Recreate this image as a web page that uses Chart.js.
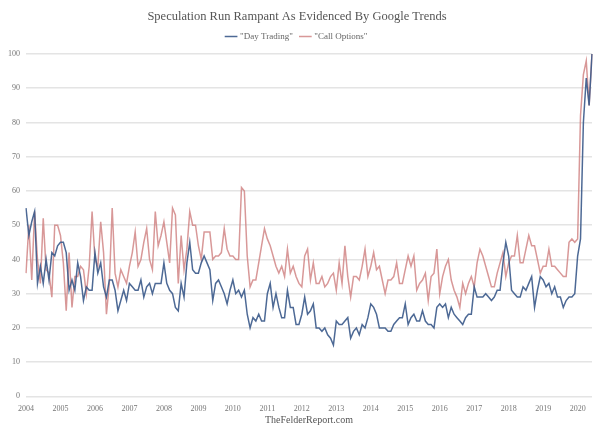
<!DOCTYPE html>
<html>
<head>
<meta charset="utf-8">
<script src="https://cdn.jsdelivr.net/npm/chart.js@4/dist/chart.umd.min.js"></script>
<style>
html,body{margin:0;padding:0;background:#fff;}
#wrap{width:600px;height:434px;}
</style>
</head>
<body>
<div id="wrap"><canvas id="c" width="600" height="434"></canvas></div>
<script>
const years = ['2004','2005','2006','2007','2008','2009','2010','2011','2012','2013','2014','2015','2016','2017','2018','2019','2020'];

const dayTrading = [
  55,47,51,54,33,38,33,40,34,42,41,44,
  45,45,42,31,34,31,39,35,28,32,31,31,
  42,36,39,32,29,34,34,31,25,28,31,28,
  33,32,31,31,34,29,32,33,30,33,33,33,
  39,33,31,30,26,25,33,29,39,45,37,36,
  36,39,41,39,37,28,33,34,32,30,27,31,
  34,30,31,29,31,24,20,23,22,24,22,22,
  30,33,26,30,26,23,23,31,26,26,21,21,
  24,29,24,25,27,20,20,19,20,18,17,15,
  22,21,21,22,23,17,19,20,18,21,20,23,
  27,26,24,20,20,20,19,19,21,22,23,23,
  27,21,23,24,22,22,25,22,21,21,20,26,
  27,26,27,23,26,24,23,22,21,23,24,24,
  32,29,29,29,30,29,28,29,31,31,39,45,
  41,31,30,29,29,32,31,33,35,26,31,35,
  34,32,33,30,32,29,29,26,28,29,29,30,
  41,46,80,93,85,100
];

const callOptions = [
  36,50,34,54,40,33,52,37,36,29,50,50,
  47,39,25,42,26,35,35,38,37,30,38,54,
  40,38,51,42,24,33,55,36,32,37,35,33,
  38,42,48,38,40,45,49,40,37,54,44,47,
  51,45,39,55,53,33,47,37,43,54,50,50,
  44,40,48,48,48,40,41,41,42,49,43,41,
  41,40,40,61,60,41,32,34,34,39,44,49,
  46,44,41,38,36,38,35,43,36,38,35,33,
  32,41,43,34,39,33,33,35,32,33,35,36,
  31,39,33,44,35,29,35,35,34,38,43,35,
  38,42,37,38,34,30,34,34,35,39,33,33,
  37,41,38,41,31,33,34,36,28,35,36,43,
  30,35,38,40,34,31,29,26,33,30,33,35,
  32,39,43,41,38,35,32,32,36,39,42,35,
  39,41,41,47,39,39,43,47,44,44,40,36,
  38,38,43,38,38,37,36,35,35,45,46,45,
  46,82,94,98,85,100
];

const seriesNames = ['"Day Trading"', '"Call Options"'];
const yTicks = [0,10,20,30,40,50,60,70,80,90,100];

// month labels: year label on January, blank otherwise
const labels = [];
years.forEach(y => { for (let m = 0; m < 12; m++) labels.push(m === 0 ? y : ''); });
labels.length = dayTrading.length;

const serif = "'Liberation Serif', 'DejaVu Serif', serif";

// adds a little space below the legend
const legendGap = {
  id: 'legendGap',
  beforeUpdate(chart) {
    const lg = chart.legend;
    if (lg && !lg._gapPatched) {
      const fit = lg.fit;
      lg.fit = function() { fit.call(this); this.height += 3; };
      lg._gapPatched = true;
    }
  }
};

new Chart(document.getElementById('c'), {
  type: 'line',
  data: {
    labels: labels,
    datasets: [
      { label: seriesNames[0], data: dayTrading, borderColor: 'rgba(62,92,140,0.92)', backgroundColor: 'rgba(62,92,140,0.92)', borderWidth: 1.5, pointRadius: 0, tension: 0 },
      { label: seriesNames[1], data: callOptions, borderColor: 'rgba(206,126,126,0.8)', backgroundColor: 'rgba(206,126,126,0.8)', borderWidth: 1.5, pointRadius: 0, tension: 0 }
    ]
  },
  plugins: [legendGap],
  options: {
    responsive: false,
    animation: false,
    layout: { padding: { left: 2, right: 8, top: 7, bottom: 8 } },
    plugins: {
      title: { display: true, text: 'Speculation Run Rampant As Evidenced By Google Trends', color: '#555', font: { family: serif, size: 12.5, weight: 'normal' }, padding: { top: 2, bottom: 0 } },
      legend: { display: true, labels: { usePointStyle: true, pointStyle: 'line', boxWidth: 20, color: '#666', font: { family: serif, size: 9 }, padding: 8 } },
      tooltip: { enabled: false }
    },
    scales: {
      x: {
        grid: { display: false },
        border: { display: false },
        ticks: { autoSkip: false, maxRotation: 0, minRotation: 0, color: '#777', font: { family: serif, size: 8 }, padding: 0,
          callback: function(v, i) { return labels[i]; } },
        title: { display: true, text: 'TheFelderReport.com', color: '#555', font: { family: serif, size: 10 }, padding: { top: 0, bottom: 0 } }
      },
      y: {
        min: 0, max: 100,
        afterBuildTicks: axis => { axis.ticks = yTicks.map(v => ({ value: v })); },
        grid: { color: '#e4e4e4', lineWidth: 1.5, drawTicks: false },
        border: { display: false },
        ticks: { color: '#777', font: { family: serif, size: 8 }, padding: 6 }
      }
    }
  }
});
</script>
</body>
</html>
